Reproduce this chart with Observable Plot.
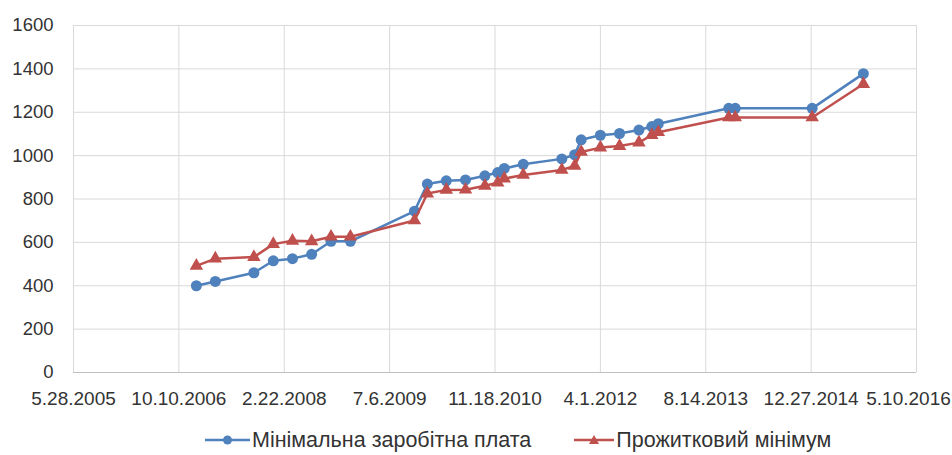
<!DOCTYPE html>
<html>
<head>
<meta charset="utf-8">
<script src="https://cdn.jsdelivr.net/npm/d3@7"></script>
<script src="https://cdn.jsdelivr.net/npm/@observablehq/plot@0.6"></script>
<style>
  html, body { margin: 0; padding: 0; background: #fff; }
  #wrap { width: 952px; font-family: "Liberation Sans", Arial, sans-serif; }
  #legend { display: flex; justify-content: flex-start; gap: 43px; font-size: 21.5px; color: #333; margin-top: 8px; padding-left: 205px; line-height: 24px; white-space: nowrap; }
  #legend span { display: inline-flex; align-items: center; gap: 2px; }
</style>
</head>
<body>
<div id="wrap"><div id="chart"></div><div id="legend"></div></div>
<script>
const dates = ["2007-01-01","2007-04-01","2007-10-01","2008-01-01","2008-04-01","2008-07-01","2008-10-01","2009-01-01",
  "2009-11-01","2010-01-01","2010-04-01","2010-07-01","2010-10-01","2010-12-01","2011-01-01","2011-04-01",
  "2011-10-01","2011-12-01","2012-01-01","2012-04-01","2012-07-01","2012-10-01","2012-12-01","2013-01-01",
  "2013-12-01","2014-01-01","2015-01-01","2015-09-01"];
const minWage = [400,420,460,515,525,545,605,605,744,869,884,888,907,922,941,960,985,1004,1073,1094,1102,1118,1134,1147,1218,1218,1218,1378];
const subsistence = [492,525,532,592,607,605,626,626,701,825,842,843,861,875,894,911,934,953,1017,1037,1044,1060,1095,1108,1176,1176,1176,1330];
const seriesNames = ["Мінімальна заробітна плата", "Прожитковий мінімум"];
const xTickLabels = ["5.28.2005","10.10.2006","2.22.2008","7.6.2009","11.18.2010","4.1.2012","8.14.2013","12.27.2014","5.10.2016"];
const yTicks = [0,200,400,600,800,1000,1200,1400,1600];

const parseMDY = s => { const [m,d,y] = s.split(".").map(Number); return new Date(Date.UTC(y, m-1, d)); };
const xTicks = xTickLabels.map(parseMDY);
const fmt = d => `${d.getUTCMonth()+1}.${d.getUTCDate()}.${d.getUTCFullYear()}`;
const colors = ["#4F81BD", "#C0504D"];

const blue = dates.map((d, i) => ({date: new Date(d + "T00:00:00Z"), value: minWage[i]}));
const red = dates.map((d, i) => ({date: new Date(d + "T00:00:00Z"), value: subsistence[i]}));

const chart = Plot.plot({
  width: 952,
  height: 420,
  marginLeft: 73,
  marginRight: 36,
  marginTop: 25,
  marginBottom: 48,
  style: {fontFamily: '"Liberation Sans", Arial, sans-serif', fontSize: "19px", color: "#333", background: "#fff"},
  x: {type: "utc", domain: [xTicks[0], xTicks[xTicks.length-1]], label: null},
  y: {domain: [0, 1600], label: null},
  marks: [
    Plot.gridX(xTicks, {stroke: "#d9d9d9", strokeOpacity: 1}),
    Plot.gridY(yTicks, {stroke: "#d9d9d9", strokeOpacity: 1}),
    Plot.ruleY([0], {stroke: "#bfbfbf"}),
    Plot.axisX(xTicks.slice(0, -1), {tickFormat: fmt, tickSize: 0, tickPadding: 19, fontSize: 19, label: null}),
    Plot.axisX(xTicks.slice(-1), {tickFormat: fmt, tickSize: 0, tickPadding: 19, fontSize: 19, dx: -8, label: null}),
    Plot.axisY(yTicks, {tickFormat: d3.format("d"), tickSize: 0, tickPadding: 20, fontSize: 18.5, label: null}),
    Plot.line(blue, {x: "date", y: "value", stroke: colors[0], strokeWidth: 2.5}),
    Plot.dot(blue, {x: "date", y: "value", fill: colors[0], r: 5.5, symbol: "circle"}),
    Plot.line(red, {x: "date", y: "value", stroke: colors[1], strokeWidth: 2.5}),
    Plot.dot(red, {x: "date", y: "value", fill: colors[1], r: 5, symbol: "triangle"})
  ]
});
document.getElementById("chart").appendChild(chart);

const legend = document.getElementById("legend");
seriesNames.forEach((name, i) => {
  const sp = document.createElement("span");
  const w = i === 0 ? 45 : 40;
  const marker = i === 0
    ? `<circle cx="${w/2}" cy="8" r="4.5" fill="${colors[i]}"/>`
    : `<path d="M${w/2},3 L${w/2+5},12 L${w/2-5},12 Z" fill="${colors[i]}"/>`;
  sp.innerHTML = `<svg width="${w}" height="16"><line x1="0" y1="8" x2="${w}" y2="8" stroke="${colors[i]}" stroke-width="2.5"/>${marker}</svg>${name}`;
  legend.appendChild(sp);
});
</script>
</body>
</html>
